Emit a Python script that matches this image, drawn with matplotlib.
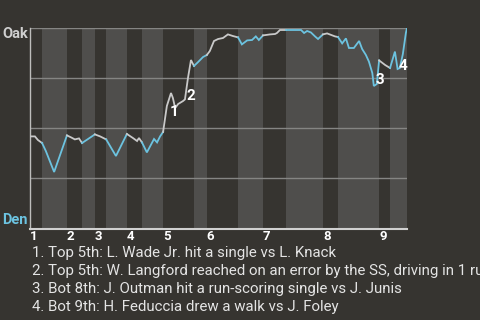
import matplotlib
matplotlib.use("Agg")
import matplotlib.pyplot as plt

plt.rcParams['font.family'] = ['Roboto', 'DejaVu Sans']

# half-inning boundaries (game progress, in plays)
half_bounds = [0, 3.2, 9.8, 13.8, 17.2, 20.2, 25.7, 29.7, 35.3, 43.5, 46.9,
               55.2, 61.8, 67.9, 77.7, 81.7, 92.6, 95.5, 100]
inning_labels = ["1", "2", "3", "4", "5", "6", "7", "8", "9"]

# Oakland win probability over the game
play_x = [0.0, 1.3, 2.1, 3.2, 4.2, 6.4, 9.8, 10.9, 11.9, 13.0, 13.8, 15.4, 17.2,
          18.6, 20.2, 22.8, 25.7, 27.3, 28.4, 28.9, 29.7, 31.0, 32.9, 33.7, 34.5,
          35.3, 36.3, 37.4, 37.9, 38.5, 39.3, 40.6, 41.1, 41.9, 42.7, 43.5, 44.6,
          45.9, 46.9, 47.7, 48.8, 49.9, 51.2, 52.5, 53.8, 55.2, 56.2, 57.6, 58.9,
          59.9, 60.7, 61.8, 63.7, 65.0, 65.5, 66.3, 67.9, 71.9, 72.7, 73.5, 74.5,
          75.6, 76.4, 77.7, 78.8, 80.9, 81.7, 82.8, 83.8, 84.6, 85.9, 87.3, 88.1,
          89.1, 89.9, 90.8, 91.2, 92.0, 92.6, 94.2, 95.5, 96.8, 97.5, 98.1, 98.9,
          99.7, 100]
oak_wp = [0.458, 0.458, 0.44, 0.425, 0.385, 0.28, 0.463, 0.453, 0.443, 0.448, 0.425,
          0.445, 0.468, 0.458, 0.443, 0.36, 0.47, 0.45, 0.435, 0.45, 0.428, 0.378,
          0.445, 0.428, 0.458, 0.48, 0.61, 0.675, 0.65, 0.60, 0.62, 0.635, 0.643,
          0.75, 0.84, 0.81, 0.83, 0.855, 0.865, 0.885, 0.935, 0.945, 0.95, 0.968,
          0.96, 0.953, 0.918, 0.938, 0.94, 0.958, 0.94, 0.963, 0.968, 0.97, 0.975,
          0.99, 0.99, 0.99, 0.975, 0.985, 0.978, 0.958, 0.945, 0.968, 0.973, 0.958,
          0.955, 0.923, 0.948, 0.90, 0.90, 0.935, 0.895, 0.865, 0.832, 0.775, 0.71,
          0.72, 0.838, 0.815, 0.80, 0.882, 0.795, 0.80, 0.87, 0.975, 1.0]

mark_labels = ["1", "2", "3", "4"]
mark_x = [38.3, 42.7, 92.7, 98.9]
mark_y = [0.58, 0.66, 0.74, 0.808]

notes = [
    "1. Top 5th: L. Wade Jr. hit a single vs L. Knack",
    "2. Top 5th: W. Langford reached on an error by the SS, driving in 1 run",
    "3. Bot 8th: J. Outman hit a run-scoring single vs J. Junis",
    "4. Bot 9th: H. Feduccia drew a walk vs J. Foley",
]

BG = "#363430"
BAND = "#4f4e4c"
GRID = "#858583"
GRAY_LINE = "#c9c9c9"
BLUE_LINE = "#6cc3e0"

fig = plt.figure(figsize=(4.8, 3.2), dpi=100, facecolor=BG)
ax = fig.add_axes([30/480, (320-229)/320, 377/480, 201/320])
ax.set_facecolor(BG)
ax.set_xlim(0, 100)
ax.set_ylim(-0.005, 1.0)

for i in range(len(half_bounds) - 1):
    if i % 2 == 1:
        ax.axvspan(half_bounds[i], half_bounds[i+1], color=BAND, lw=0, zorder=0)

for g in [0.25, 0.5, 0.75, 1.0]:
    ax.axhline(g, color=GRID, lw=1.0, zorder=1)

for i in range(len(half_bounds) - 1):
    lo, hi = half_bounds[i], half_bounds[i+1]
    xs = [x for x in play_x if lo <= x <= hi]
    ys = [y for x, y in zip(play_x, oak_wp) if lo <= x <= hi]
    ax.plot(xs, ys, color=GRAY_LINE if i % 2 == 0 else BLUE_LINE, lw=1.3,
            solid_joinstyle='miter', zorder=3)

for t, x, y in zip(mark_labels, mark_x, mark_y):
    ax.text(x, y, t, color="white", fontsize=11, fontweight="bold",
            ha="center", va="center", zorder=4)

for s in ["top", "right"]:
    ax.spines[s].set_visible(False)
ax.spines["left"].set_color("#bdbdbb")
ax.spines["bottom"].set_color("#d0d0d0")
ax.spines["left"].set_linewidth(1.0)
ax.spines["bottom"].set_linewidth(1.5)

ax.set_yticks([])
ax.set_xticks(half_bounds[0:-1:2])
ax.set_xticklabels(inning_labels, color="white", fontsize=9.5, fontweight="bold",
                   ha="left")
ax.tick_params(axis="x", length=0, pad=1)

fig.text(2/480, 1 - 34/320, "Oak", color="#cfcfcf", fontsize=10.5, fontweight="bold",
         ha="left", va="center")
fig.text(2/480, 1 - 219.5/320, "Den", color=BLUE_LINE, fontsize=10.5, fontweight="bold",
         ha="left", va="center")

for k, s in enumerate(notes):
    fig.text(32/480, 1 - (253 + 18*k)/320, s, color="#e4e4e4", fontsize=10.8,
             ha="left", va="center")

fig.savefig("out.png", dpi=100, facecolor=BG)
